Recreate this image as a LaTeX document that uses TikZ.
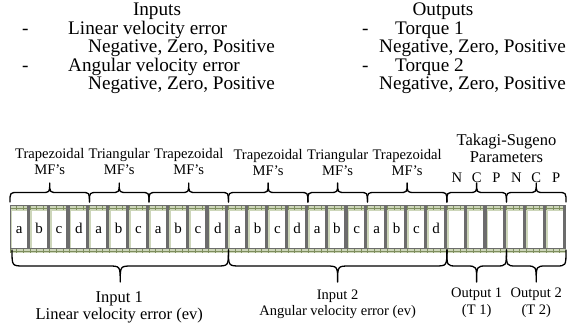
\documentclass[tikz,border=0pt]{standalone}
\usepackage{fontspec}
\setmainfont{Liberation Serif}
\newfontfamily\tms{Liberation Serif}
\definecolor{bandgreen}{HTML}{CDD6BA}
\definecolor{tickgreen}{HTML}{7E8E5E}
\definecolor{bargray}{HTML}{6C6C6C}
\def\p{19.857}
\newcommand\wbrace[5]{%
  \pgfmathsetmacro\xa{10+#1*\p}%
  \pgfmathsetmacro\xb{10+#2*\p}%
  \pgfmathsetmacro\xm{(\xa+\xb)/2}%
  \pgfmathsetmacro\ya{#3+(#4)}%
  \pgfmathsetmacro\yb{#3+2*(#4)}%
  \draw[bracestyle] (\xa,#3) .. controls (\xa,\ya) .. (\xa+#5,\ya) -- (\xm-#5,\ya)
    .. controls (\xm,\ya) .. (\xm,\yb) .. controls (\xm,\ya) .. (\xm+#5,\ya)
    -- (\xb-#5,\ya) .. controls (\xb,\ya) .. (\xb,#3);}
\begin{document}
\begin{tikzpicture}[x=1pt,y=-1pt,
  toptext/.style={font=\tms\fontsize{19.2}{19.2}\selectfont, anchor=base west, inner sep=0pt},
  mflabel/.style={font=\tms\fontsize{14.6}{14.6}\selectfont, anchor=base, inner sep=0pt},
  celltext/.style={font=\tms\fontsize{15}{15}\selectfont, anchor=base, inner sep=0pt},
  biglabel/.style={font=\tms\fontsize{16.5}{16.5}\selectfont, anchor=base, inner sep=0pt},
  smalllabel/.style={font=\tms\fontsize{14.5}{14.5}\selectfont, anchor=base, inner sep=0pt},
  bracestyle/.style={draw=black, line width=1.3pt, line cap=round, line join=round},
  bar/.style={fill=bargray, draw=none},
  cell/.style={fill=white, draw=none}]
\useasboundingbox (0,0) rectangle (572,328);
% ---- top text ----
\node[toptext, anchor=base] (inputs) at (157,16) {Inputs};
\node[toptext] (dash1) at (22,34.5) {-};
\node[toptext] (lin) at (68,34.5) {Linear velocity error};
\node[toptext] (neg1) at (88,53) {Negative, Zero, Positive};
\node[toptext] (dash2) at (22,71.5) {-};
\node[toptext] (ang) at (68,71.5) {Angular velocity error};
\node[toptext] (neg2) at (88,90) {Negative, Zero, Positive};
\node[toptext, anchor=base] (outputs) at (443,16) {Outputs};
\node[toptext] (dash3) at (362,34.5) {-};
\node[toptext] (tq1) at (395,34.5) {Torque 1};
\node[toptext] (neg3) at (379,53) {Negative, Zero, Positive};
\node[toptext] (dash4) at (362,71.5) {-};
\node[toptext] (tq2) at (395,71.5) {Torque 2};
\node[toptext] (neg4) at (379,90) {Negative, Zero, Positive};
% ---- strip ----
\fill[bandgreen] (10,205) rectangle (566,253);
\foreach \k in {0,...,83}{
  \draw[tickgreen, line width=0.5pt] (10+\k*6.619,206) -- ++(0,4);
  \draw[tickgreen, line width=0.5pt] (10+\k*6.619,249) -- ++(0,4);
}
\draw[tickgreen, line width=0.5pt] (10,208) -- (566,208);
\draw[tickgreen, line width=0.5pt] (10,251) -- (566,251);
\foreach \i in {0,...,27}{
  \fill[cell] (10+\i*\p+1.8,211) rectangle (10+\i*\p+\p-3.2,248);
  \fill[bar] (10+\i*\p+\p-3.2,205) rectangle (10+\i*\p+\p,249);
}
\fill[bar] (10,205) rectangle (11.2,249);
\draw[bargray, line width=1pt] (10,205.5) -- (566,205.5);
\draw[bargray, line width=1pt] (10,248.5) -- (566,248.5);
\foreach \l [count=\i from 0] in {a,b,c,d,a,b,c,a,b,c,d,a,b,c,d,a,b,c,a,b,c,d}{
  \node[celltext] (cell\i) at (10+\i*\p+\p/2-0.7,234) {\l};
}
% ---- top labels ----
\node[mflabel] (trap1) at ({10+2*\p},159) {Trapezoidal};
\node[mflabel] (trap1b) at ({10+2*\p},175) {MF’s};
\node[mflabel] (tri1) at ({10+5.5*\p},159) {Triangular};
\node[mflabel] (tri1b) at ({10+5.5*\p},175) {MF’s};
\node[mflabel] (trap2) at ({10+9*\p},159) {Trapezoidal};
\node[mflabel] (trap2b) at ({10+9*\p},175) {MF’s};
\node[mflabel] (trap3) at ({10+13*\p},160) {Trapezoidal};
\node[mflabel] (trap3b) at ({10+13*\p},176) {MF’s};
\node[mflabel] (tri2) at ({10+16.5*\p},160) {Triangular};
\node[mflabel] (tri2b) at ({10+16.5*\p},176) {MF’s};
\node[mflabel] (trap4) at ({10+20*\p},160) {Trapezoidal};
\node[mflabel] (trap4b) at ({10+20*\p},176) {MF’s};
\node[biglabel] (ts) at ({10+25*\p},146) {Takagi-Sugeno};
\node[biglabel] (par) at ({10+25*\p},163) {Parameters};
\foreach \l [count=\j from 22] in {N,C,P,N,C,P}{
  \node[mflabel] (ncp\j) at ({10+\j*\p+\p/2},183) {\l};
}
% ---- braces ----
\wbrace{0}{4}{202}{-9.5}{8}
\wbrace{4}{7}{202}{-9.5}{8}
\wbrace{7}{11}{202}{-9.5}{8}
\wbrace{11}{15}{202}{-9.5}{8}
\wbrace{15}{18}{202}{-9.5}{8}
\wbrace{18}{22}{202}{-9.5}{8}
\wbrace{22}{25}{202}{-9.5}{8}
\wbrace{25}{28}{202}{-9.5}{8}
\wbrace{0.1}{11}{250}{16}{12}
\wbrace{11}{22}{250}{16}{12}
\wbrace{22}{25}{250}{16}{10}
\wbrace{25}{28}{250}{16}{10}
% ---- bottom labels ----
\node[biglabel] (in1) at ({10+5.5*\p},302) {Input 1};
\node[biglabel] (in1b) at ({10+5.5*\p},319) {Linear velocity error (ev)};
\node[smalllabel] (in2) at ({10+16.5*\p},299) {Input 2};
\node[smalllabel] (in2b) at ({10+16.5*\p},315) {Angular velocity error (ev)};
\node[smalllabel] (out1) at ({10+23.5*\p},297) {Output 1};
\node[smalllabel] (out1b) at ({10+23.5*\p},314) {(T 1)};
\node[smalllabel] (out2) at ({10+26.5*\p},297) {Output 2};
\node[smalllabel] (out2b) at ({10+26.5*\p},314) {(T 2)};
\end{tikzpicture}
\end{document}
